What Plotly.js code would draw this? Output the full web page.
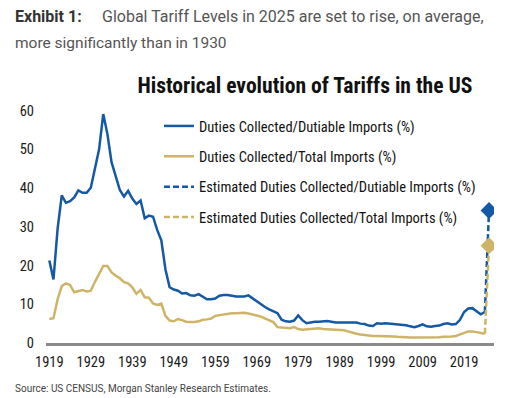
<!DOCTYPE html>
<html><head><meta charset="utf-8">
<script src="https://cdn.plot.ly/plotly-3.0.1.min.js"></script>
<style>html,body{margin:0;padding:0;background:#fff;}#chart{width:509px;height:398px;}</style>
</head><body><div id="chart"></div>
<script>
const years = [];
for (let y = 1919; y <= 2024; y++) years.push(y);

const dutiable = [
21.3,16.4,29.5,38.1,36.2,36.6,37.6,39.4,38.8,38.8,
40.1,44.7,50.0,59.1,54.0,46.7,43.0,39.5,37.8,39.3,
37.3,35.9,36.8,32.2,32.9,32.6,29.2,26.5,19.0,14.4,
13.8,13.5,12.8,12.9,12.3,12.2,12.6,12.0,11.3,11.3,
11.5,12.2,12.4,12.4,12.2,12.0,12.0,12.0,12.3,11.5,
10.9,10.0,9.3,8.7,8.3,7.7,6.0,5.6,5.5,5.8,
7.1,5.9,5.1,5.3,5.5,5.5,5.6,5.7,5.5,5.3,
5.3,5.3,5.2,5.2,5.3,5.0,4.9,4.5,4.4,5.1,
5.0,5.1,5.0,5.0,4.9,4.8,4.6,4.3,4.1,4.4,
4.8,4.3,4.2,4.4,4.5,4.9,5.1,4.8,4.9,6.0,
8.0,8.9,9.0,8.2,7.4,8.0];

const total = [
6.2,6.4,11.3,14.7,15.4,15.0,13.1,13.4,13.7,13.3,
13.5,15.8,18.0,19.9,19.9,18.2,17.4,16.7,15.7,15.4,
14.4,12.7,13.7,11.8,11.7,10.2,9.8,10.2,7.0,5.8,
5.6,6.2,5.9,5.5,5.4,5.4,5.6,6.0,6.1,6.3,
7.0,7.2,7.3,7.5,7.7,7.7,7.7,7.8,7.6,7.4,
7.1,6.8,6.4,6.0,5.4,4.1,4.0,4.0,3.8,4.1,
3.6,3.4,3.5,3.6,3.7,3.8,3.6,3.5,3.5,3.4,
3.4,3.3,3.0,2.6,2.4,2.2,2.0,1.9,1.8,1.8,
1.8,1.7,1.7,1.7,1.6,1.5,1.4,1.4,1.4,1.4,
1.4,1.4,1.5,1.5,1.5,1.6,1.6,1.7,1.8,2.2,
2.8,3.0,3.0,2.8,2.5,2.4];

const estYears = [2024, 2025];
const estDutiable = [8.0, 34.2];
const estTotal = [2.4, 25.1];

const xTicks = [1919,1929,1939,1949,1959,1969,1979,1989,1999,2009,2019];
const yTicks = [0,10,20,30,40,50,60];

const names = [
  'Duties Collected/Dutiable Imports (%)',
  'Duties Collected/Total Imports (%)',
  'Estimated Duties Collected/Dutiable Imports (%)',
  'Estimated Duties Collected/Total Imports (%)'
];

const BLUE = '#1459A5';
const GOLD = '#CDB467';
const COND = '"Roboto Condensed", Roboto, sans-serif';

const L = 46, R = 15, T = 99, B = 55, W = 509, H = 398;
const pw = W - L - R, ph = H - T - B;
const fx = px => (px - L) / pw;
const fy = py => (H - B - py) / ph;

const traces = [
  {x: years, y: dutiable, name: names[0], mode: 'lines', line: {color: BLUE, width: 2.5}, legendgroup: 'a'},
  {x: years, y: total, name: names[1], mode: 'lines', line: {color: GOLD, width: 2.5}, legendgroup: 'b'},
  {x: estYears, y: estDutiable, name: names[2], mode: 'lines', line: {color: BLUE, width: 2.5, dash: '6px,3px'}, legendgroup: 'c'},
  {x: estYears, y: estTotal, name: names[3], mode: 'lines', line: {color: GOLD, width: 2.5, dash: '6px,3px'}, legendgroup: 'd'},
  {x: estYears.slice(1), y: estDutiable.slice(1), mode: 'markers', marker: {symbol: 'diamond', size: 13, color: BLUE}, showlegend: false, hoverinfo: 'skip'},
  {x: estYears.slice(1), y: estTotal.slice(1), mode: 'markers', marker: {symbol: 'diamond', size: 13, color: GOLD}, showlegend: false, hoverinfo: 'skip'}
];

const layout = {
  width: W, height: H,
  margin: {l: L, r: R, t: T, b: B, pad: 0},
  paper_bgcolor: '#fff', plot_bgcolor: '#fff',
  showlegend: true,
  font: {family: COND, color: '#1a1a1a'},
  title: {
    text: '<b>Historical evolution of Tariffs in the US</b>',
    font: {family: COND, size: 21.6, color: '#111'},
    xref: 'container', yref: 'container',
    x: 305 / W, xanchor: 'center', y: 1 - 85 / H, yanchor: 'middle'
  },
  xaxis: {
    range: [1918.2, 2026.2], tickvals: xTicks, ticktext: xTicks.map(String), tickangle: 0,
    showgrid: false, zeroline: false, showline: true, linecolor: '#8a8a8a', linewidth: 2.5,
    ticks: '', tickfont: {family: COND, size: 14.5, color: '#1a1a1a'}, ticklabelstandoff: 4
  },
  yaxis: {
    range: [0, 63], tickvals: yTicks, ticktext: yTicks.map(String),
    showgrid: false, zeroline: false, showline: false,
    ticks: '', tickfont: {family: COND, size: 14.5, color: '#1a1a1a'}, ticklabelstandoff: 11
  },
  legend: {
    x: fx(159), y: fy(110), xanchor: 'left', yanchor: 'top',
    font: {family: COND, size: 14.5, color: '#111'},
    tracegroupgap: 8.5, bgcolor: 'rgba(0,0,0,0)', itemwidth: 30
  },
  annotations: [
    {text: '<b>Exhibit 1:</b>', xref: 'paper', yref: 'paper', x: fx(13), y: fy(17), xanchor: 'left', yanchor: 'middle', showarrow: false, font: {family: 'Roboto, sans-serif', size: 16, color: '#333'}},
    {text: 'Global Tariff Levels in 2025 are set to rise, on average,', xref: 'paper', yref: 'paper', x: fx(100), y: fy(17), xanchor: 'left', yanchor: 'middle', showarrow: false, font: {family: 'Roboto, sans-serif', size: 16, color: '#555'}},
    {text: 'more significantly than in 1930', xref: 'paper', yref: 'paper', x: fx(13), y: fy(43), xanchor: 'left', yanchor: 'middle', showarrow: false, font: {family: 'Roboto, sans-serif', size: 15.5, color: '#555'}},
    {text: 'Source: US CENSUS, Morgan Stanley Research Estimates.', xref: 'paper', yref: 'paper', x: fx(13), y: fy(388), xanchor: 'left', yanchor: 'middle', showarrow: false, font: {family: 'Roboto, sans-serif', size: 10, color: '#444'}}
  ]
};

Plotly.newPlot('chart', traces, layout, {displayModeBar: false, staticPlot: true});
</script></body></html>
